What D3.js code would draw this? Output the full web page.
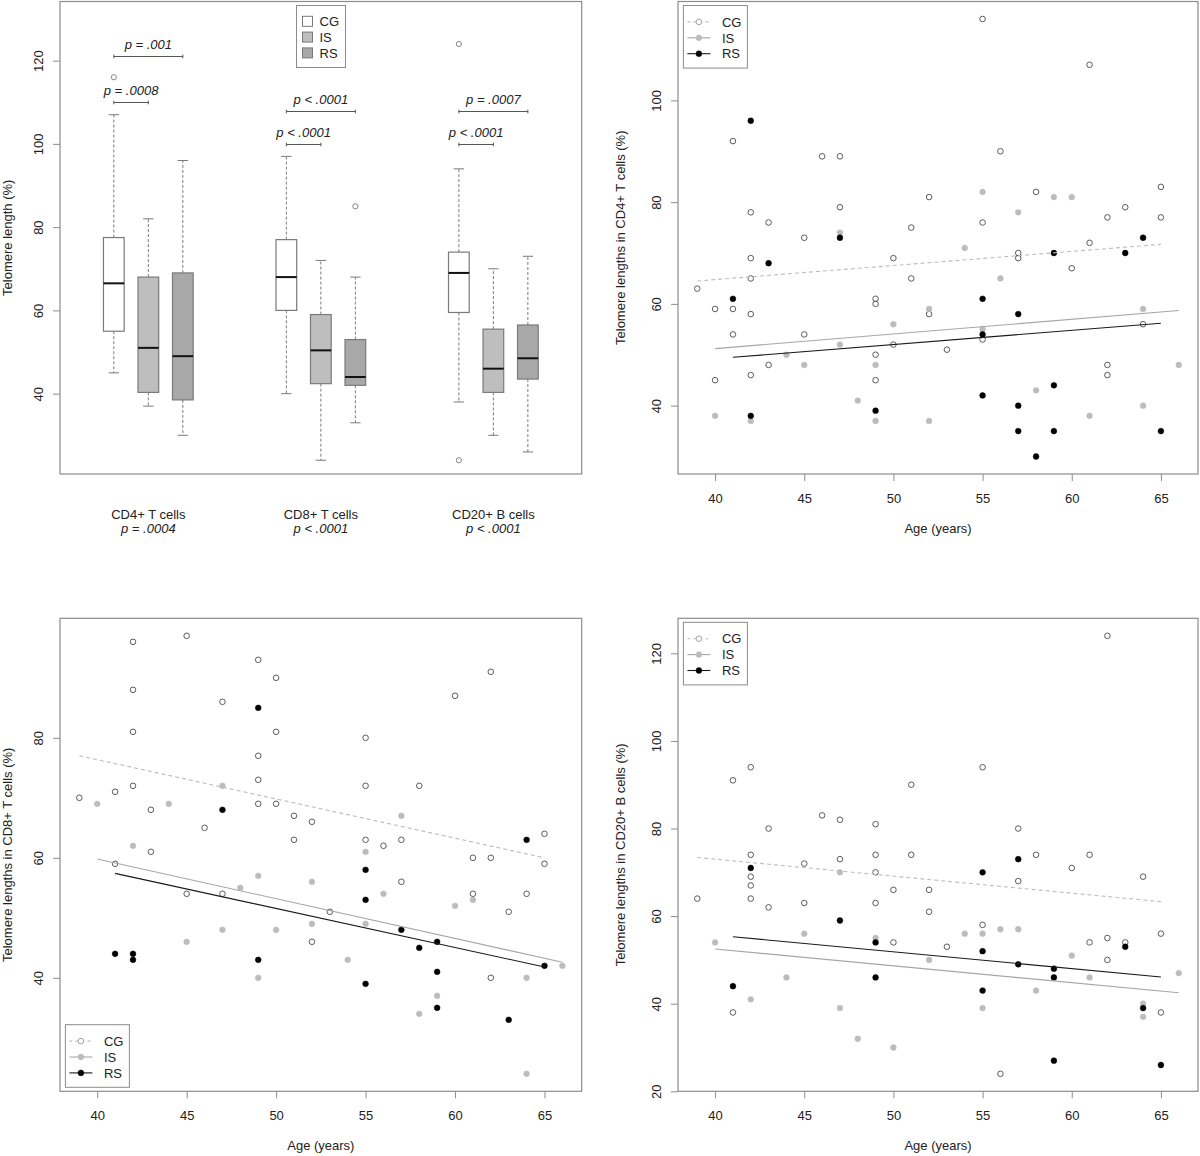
<!DOCTYPE html>
<html><head><meta charset="utf-8">
<script src="https://cdn.jsdelivr.net/npm/d3@7"></script>
<style>
body{margin:0;background:#fff}
svg{display:block}
text{font-family:"Liberation Sans",Arial,Helvetica,sans-serif;fill:#222}
</style>
</head><body>
<svg id="c" width="1200" height="1156"></svg>
<script>
// ---------------- DATA ----------------
const groupNames = ["CG", "IS", "RS"];

// Box plot panel
const boxCategories = ["CD4+ T cells", "CD8+ T cells", "CD20+ B cells"];
const boxCategoryP = ["p = .0004", "p < .0001", "p < .0001"];
// [lower whisker, Q1, median, Q3, upper whisker] per category
const boxCG = [[45, 55, 66.5, 77.5, 107], [40, 60, 68, 77, 97], [38, 59.5, 69, 74, 94]];
const boxIS = [[37, 40.3, 51, 68, 82], [24, 42.4, 50.4, 59, 72], [30, 40.3, 46, 55.5, 70]];
const boxRS = [[30, 38.5, 49, 69, 96], [33, 42, 44, 53, 68], [26, 43.5, 48.5, 56.5, 73]];
const outCG = [[116], [], [124, 24]];
const outIS = [[], [], []];
const outRS = [[], [85], []];
const boxTicks = [40, 60, 80, 100, 120];
// pairwise comparison brackets: [category, groupA, groupB, value]
const bracketPairs = [[0, 0, 1, 110], [0, 0, 2, 121], [1, 0, 1, 100], [1, 0, 2, 108], [2, 0, 1, 100], [2, 0, 2, 108]];
const bracketLabels = ["p = .0008", "p = .001", "p < .0001", "p < .0001", "p < .0001", "p = .0007"];

// Scatter panels: [age, telomere length]
const ageTicks = [40, 45, 50, 55, 60, 65];

const cd4CG = [[55,116],[61,107],[41,92],[46,89],[47,89],[56,90],[58,82],[65,83],[52,81],[42,78],[47,79],[63,79],[43,76],[55,76],[62,77],[65,77],[51,75],[45,73],[61,72],[50,69],[42,69],[57,70],[57,69],[60,67],[42,65],[51,65],[39,63],[49,61],[49,60],[40,59],[41,59],[42,58],[52,58],[64,56],[41,54],[45,54],[50,52],[55,53],[53,51],[49,50],[43,48],[62,48],[42,46],[62,46],[40,45],[49,45]];
const cd4IS = [[55,82],[59,81],[60,81],[57,78],[47,74],[54,71],[56,65],[52,59],[64,59],[50,56],[55,55],[47,52],[44,50],[45,48],[49,48],[66,48],[58,43],[48,41],[64,40],[40,38],[61,38],[42,37],[49,37],[52,37]];
const cd4RS = [[42,96],[47,73],[59,70],[63,70],[64,73],[43,68],[41,61],[55,61],[57,58],[55,54],[59,44],[55,42],[57,40],[49,39],[42,38],[57,35],[59,35],[65,35],[58,30]];
const cd4FitCG = [[39, 64.5], [65, 71.7]];
const cd4FitIS = [[40, 51.2], [66, 58.7]];
const cd4FitRS = [[41, 49.5], [65, 56.2]];
const cd4Ticks = [40, 60, 80, 100];

const cd8CG = [[42,96],[45,97],[49,93],[50,90],[62,91],[42,88],[60,87],[47,86],[42,81],[50,81],[55,80],[49,77],[49,73],[42,72],[55,72],[58,72],[39,70],[41,71],[43,68],[49,69],[50,69],[51,67],[52,66],[46,65],[51,63],[55,63],[57,63],[56,62],[65,64],[61,60],[62,60],[43,61],[41,59],[65,59],[57,56],[45,54],[47,54],[61,54],[64,54],[53,51],[63,51],[52,46],[62,40]];
const cd8IS = [[40,69],[44,69],[47,72],[57,67],[42,62],[55,61],[49,57],[52,56],[48,55],[56,54],[61,53],[60,52],[55,49],[52,49],[47,48],[50,48],[45,46],[54,43],[66,42],[49,40],[64,40],[59,37],[58,34],[64,24]];
const cd8RS = [[49,85],[47,68],[64,63],[55,58],[55,53],[57,48],[59,46],[58,45],[41,44],[42,44],[42,43],[49,43],[65,42],[59,41],[55,39],[59,35],[63,33]];
const cd8FitCG = [[39, 77], [65, 60]];
const cd8FitIS = [[40, 59.8], [66, 42.6]];
const cd8FitRS = [[41, 57.4], [65, 41.8]];
const cd8Ticks = [40, 60, 80];

const cd20CG = [[62,124],[42,94],[55,94],[41,91],[51,90],[46,83],[47,82],[49,81],[43,80],[57,80],[42,74],[49,74],[51,74],[58,74],[61,74],[47,73],[45,72],[60,71],[49,70],[42,69],[64,69],[57,68],[42,67],[39,64],[42,64],[43,62],[45,63],[49,63],[50,66],[52,66],[52,61],[55,58],[65,56],[50,54],[61,54],[62,55],[63,54],[53,53],[62,50],[41,38],[65,38],[56,24]];
const cd20IS = [[47,70],[40,54],[45,56],[49,55],[54,56],[55,56],[56,57],[57,57],[60,51],[52,50],[44,46],[61,46],[66,47],[58,43],[42,41],[64,40],[47,39],[55,39],[64,37],[48,32],[50,30]];
const cd20RS = [[42,71],[55,70],[57,73],[47,59],[49,54],[55,52],[63,53],[57,49],[59,48],[49,46],[59,46],[41,44],[55,43],[64,39],[59,27],[65,26]];
const cd20FitCG = [[39, 73.4], [65, 63.3]];
const cd20FitIS = [[40, 52.5], [66, 42.5]];
const cd20FitRS = [[41, 55.3], [65, 46.1]];
const cd20Ticks = [20, 40, 60, 80, 100, 120];

// ---------------- DRAWING ----------------
const svg = d3.select("#c");
const FONT = '"Liberation Sans", Arial, Helvetica, sans-serif';
const frameCol = "#8c8c8c";
const txtCol = "#222";

function yAxis(scale, ticks, xLeft) {
  const a = svg.append("g").attr("transform", `translate(${xLeft},0)`)
    .call(d3.axisLeft(scale).tickValues(ticks).tickSize(7).tickFormat(d3.format("d")));
  a.attr("font-family", FONT).attr("font-size", 13);
  a.select(".domain").remove();
  a.selectAll(".tick line").attr("stroke", frameCol);
  a.selectAll(".tick text").attr("dy", null).attr("x", 0).attr("y", -17.5)
    .attr("transform", "rotate(-90)").attr("text-anchor", "middle").attr("fill", txtCol);
}
function xAxis(scale, ticks, yBottom) {
  const a = svg.append("g").attr("transform", `translate(0,${yBottom})`)
    .call(d3.axisBottom(scale).tickValues(ticks).tickSize(7).tickFormat(d3.format("d")));
  a.attr("font-family", FONT).attr("font-size", 13);
  a.select(".domain").remove();
  a.selectAll(".tick line").attr("stroke", frameCol);
  a.selectAll(".tick text").attr("dy", null).attr("y", 29).attr("fill", txtCol);
}
function vTitle(text, xBase, yc) {
  svg.append("text").attr("transform", `translate(${xBase},${yc}) rotate(-90)`)
    .attr("text-anchor", "middle").attr("font-size", 13).attr("fill", txtCol).text(text);
}
function frame(x0, y0, x1, y1) {
  svg.append("rect").attr("x", x0).attr("y", y0).attr("width", x1 - x0).attr("height", y1 - y0)
    .attr("fill", "none").attr("stroke", frameCol).attr("stroke-width", 1.2);
}

// ---------- Panel 1: box plots ----------
(function () {
  const L = 60, R = 581.7, T = 1.5, B = 474;
  const x = d3.scaleLinear().domain([-0.56, 14.56]).range([L, R]);
  const y = d3.scaleLinear().domain([20.7, 134.2]).range([B, T]);
  const fills = ["#ffffff", "#bebebe", "#a8a8a8"];
  const stats = [boxCG, boxIS, boxRS];
  const outs = [outCG, outIS, outRS];
  const pos = (c, g) => c * 5 + g + 1;
  const bw = 0.6, cw = 0.3;
  const gBox = svg.append("g");
  boxCategories.forEach((cat, c) => {
    stats.forEach((st, g) => {
      const s = st[c];
      const xc = x(pos(c, g));
      const hw = (x(bw) - x(0)) / 2, cap = (x(cw) - x(0)) / 2;
      gBox.append("line").attr("x1", xc).attr("x2", xc).attr("y1", y(s[3])).attr("y2", y(s[4]))
        .attr("stroke", "#7a7a7a").attr("stroke-dasharray", "3,2");
      gBox.append("line").attr("x1", xc).attr("x2", xc).attr("y1", y(s[1])).attr("y2", y(s[0]))
        .attr("stroke", "#7a7a7a").attr("stroke-dasharray", "3,2");
      [s[0], s[4]].forEach(v => gBox.append("line").attr("x1", xc - cap).attr("x2", xc + cap)
        .attr("y1", y(v)).attr("y2", y(v)).attr("stroke", "#7a7a7a"));
      gBox.append("rect").attr("x", xc - hw).attr("width", 2 * hw)
        .attr("y", y(s[3])).attr("height", y(s[1]) - y(s[3]))
        .attr("fill", fills[g]).attr("stroke", "#7a7a7a").attr("stroke-width", 1.2);
      gBox.append("line").attr("x1", xc - hw).attr("x2", xc + hw).attr("y1", y(s[2])).attr("y2", y(s[2]))
        .attr("stroke", "#111").attr("stroke-width", 2);
      outs[g][c].forEach(v => gBox.append("circle").attr("cx", xc).attr("cy", y(v)).attr("r", 2.6)
        .attr("fill", "none").attr("stroke", "#777").attr("stroke-width", 0.9));
    });
    svg.append("text").attr("x", x(pos(c, 1))).attr("y", B + 45).attr("text-anchor", "middle")
      .attr("font-size", 13).text(cat);
    svg.append("text").attr("x", x(pos(c, 1))).attr("y", B + 58.5).attr("text-anchor", "middle")
      .attr("font-size", 13).attr("font-style", "italic").text(boxCategoryP[c]);
  });
  bracketPairs.forEach((b, i) => {
    const x1 = x(pos(b[0], b[1])), x2 = x(pos(b[0], b[2])), yy = Math.round(y(b[3])) + 0.5;
    const g = svg.append("g").attr("stroke", "#555").attr("stroke-width", 1);
    g.append("line").attr("x1", x1).attr("x2", x2).attr("y1", yy).attr("y2", yy);
    [x1, x2].forEach(xx => g.append("line").attr("x1", xx).attr("x2", xx).attr("y1", yy - 1.8).attr("y2", yy + 1.8));
    svg.append("text").attr("x", (x1 + x2) / 2).attr("y", yy - 7.5).attr("text-anchor", "middle")
      .attr("font-size", 13).attr("font-style", "italic").text(bracketLabels[i]);
  });
  yAxis(y, boxTicks, L);
  vTitle("Telomere length (%)", 11.5, (T + B) / 2);
  frame(L, T, R, B);
  const lg = svg.append("g");
  lg.append("rect").attr("x", 296.5).attr("y", 5.5).attr("width", 49).attr("height", 62)
    .attr("fill", "#fff").attr("stroke", frameCol);
  groupNames.forEach((n, i) => {
    const yc = 21.3 + i * 15.8;
    lg.append("rect").attr("x", 302.5).attr("y", yc - 5).attr("width", 10).attr("height", 10)
      .attr("fill", fills[i]).attr("stroke", "#7a7a7a");
    lg.append("text").attr("x", 319.5).attr("y", yc + 4.7).attr("font-size", 13).text(n);
  });
})();

// ---------- Scatter panels ----------
const pointStyles = [
  {fill: "none", stroke: "#4a4a4a", sw: 0.9, r: 2.8},
  {fill: "#bcbcbc", stroke: "#bcbcbc", sw: 0.5, r: 2.9},
  {fill: "#000", stroke: "#000", sw: 0.5, r: 2.9}
];
const lineStyles = [
  {stroke: "#bdbdbd", dash: "4,3"},
  {stroke: "#a6a6a6", dash: null},
  {stroke: "#1a1a1a", dash: null}
];

function scatter(cfg) {
  const {L, R, T, B, yDom, yTicks, title, titleX, sets, fits, legend} = cfg;
  const x = d3.scaleLinear().domain([37.92, 67.08]).range([L, R]);
  const y = d3.scaleLinear().domain(yDom).range([B, T]);
  sets.forEach((pts, g) => {
    const st = pointStyles[g];
    svg.append("g").selectAll("circle").data(pts).join("circle")
      .attr("cx", d => x(d[0])).attr("cy", d => y(d[1])).attr("r", st.r)
      .attr("fill", st.fill).attr("stroke", st.stroke).attr("stroke-width", st.sw);
  });
  const line = d3.line().x(d => x(d[0])).y(d => y(d[1]));
  fits.forEach((f, g) => {
    const ls = lineStyles[g];
    svg.append("path").attr("d", line(f)).attr("fill", "none").attr("stroke", ls.stroke)
      .attr("stroke-width", 1.1).attr("stroke-dasharray", ls.dash);
  });
  yAxis(y, yTicks, L);
  xAxis(x, ageTicks, B);
  svg.append("text").attr("x", (L + R) / 2).attr("y", B + 59).attr("text-anchor", "middle")
    .attr("font-size", 13).text("Age (years)");
  vTitle(title, titleX, (T + B) / 2);
  frame(L, T, R, B);
  const lx = L + 5.4, ly = legend === "top" ? T + 4 : B - 66.6;
  const lg = svg.append("g");
  lg.append("rect").attr("x", lx).attr("y", ly).attr("width", 64).attr("height", 62.6)
    .attr("fill", "#fff").attr("stroke", frameCol);
  groupNames.forEach((n, i) => {
    const yc = ly + 16.4 + i * 15.9;
    const ls = lineStyles[i], st = pointStyles[i];
    lg.append("line").attr("x1", lx + 4).attr("x2", lx + 27).attr("y1", yc).attr("y2", yc)
      .attr("stroke", ls.stroke).attr("stroke-width", 1.1).attr("stroke-dasharray", i === 0 ? "3,3" : null);
    lg.append("circle").attr("cx", lx + 15.5).attr("cy", yc).attr("r", st.r)
      .attr("fill", i === 0 ? "#fff" : st.fill).attr("stroke", i === 0 ? "#999" : st.stroke).attr("stroke-width", st.sw);
    lg.append("text").attr("x", lx + 38.5).attr("y", yc + 4.7).attr("font-size", 13).text(n);
  });
}

scatter({L: 678, R: 1198, T: 1.5, B: 474, yDom: [26.56, 119.44], yTicks: cd4Ticks,
  title: "Telomere lengths in CD4+ T cells (%)", titleX: 625,
  sets: [cd4CG, cd4IS, cd4RS], fits: [cd4FitCG, cd4FitIS, cd4FitRS], legend: "top"});
scatter({L: 60, R: 581.7, T: 618.3, B: 1091.3, yDom: [21.08, 99.92], yTicks: cd8Ticks,
  title: "Telomere lengths in CD8+ T cells (%)", titleX: 11.5,
  sets: [cd8CG, cd8IS, cd8RS], fits: [cd8FitCG, cd8FitIS, cd8FitRS], legend: "bottom"});
scatter({L: 678, R: 1198, T: 618.3, B: 1091.3, yDom: [20, 128], yTicks: cd20Ticks,
  title: "Telomere lengths in CD20+ B cells (%)", titleX: 625,
  sets: [cd20CG, cd20IS, cd20RS], fits: [cd20FitCG, cd20FitIS, cd20FitRS], legend: "top"});
</script>
</body></html>
